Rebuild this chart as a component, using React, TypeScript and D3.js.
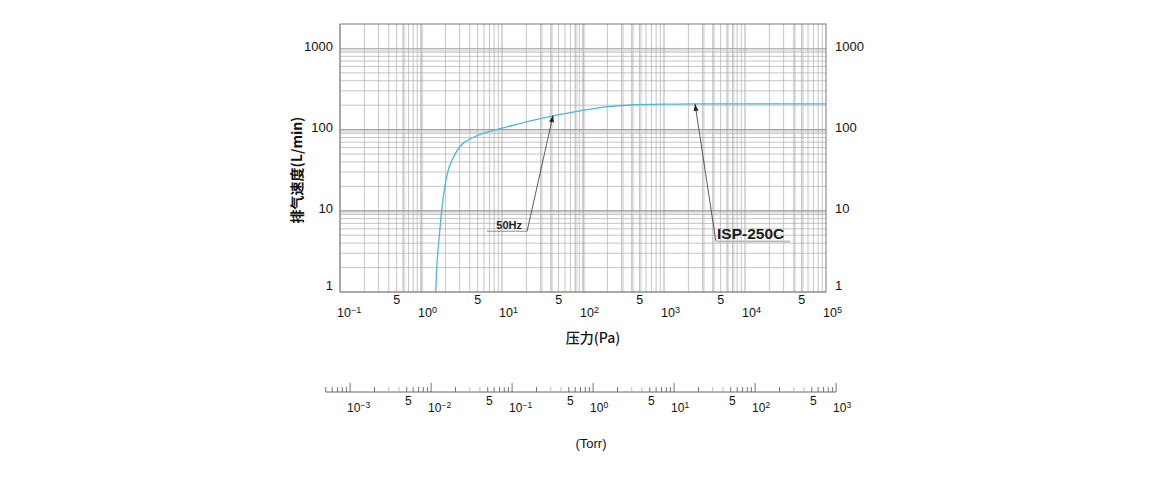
import React, { useEffect, useRef } from "react";
import * as d3 from "d3";

// pumping speed curve (Pa, L/min)
const pressurePa = [1.52, 1.56, 1.68, 1.8, 1.94, 2.1, 2.5, 3.03, 3.6, 4.4, 5.5, 7, 10, 20, 39, 92, 200, 380, 1000, 2300, 10000, 100000];
const speedLmin = [1, 1.87, 4.8, 10, 18, 28, 45, 62, 72, 80, 88, 95, 104, 125, 145, 170, 192, 201, 206, 207, 208, 208];

const speedTicks = [1, 10, 100, 1000];
const paExponents = [-1, 0, 1, 2, 3, 4, 5];
const paFives = [0.5, 5, 50, 500, 5000, 50000];
const torrExponents = [-3, -2, -1, 0, 1, 2, 3];
const torrFives = [0.005, 0.05, 0.5, 5, 50, 500];

// scanned paper has some doubled light lines
const lightX = [0.6, 1, 30, 40, 80, 100, 300, 400, 500, 3000, 4000, 6000, 7000, 40000, 50000];
const lightY = [950, 95, 9.5];

const TORR_TO_PA = 133.322;
const FONT = "'Liberation Sans', Arial, Helvetica, sans-serif";
const CJK = "'Noto Sans CJK SC', 'Liberation Sans', sans-serif";

const App: React.FC = () => {
  const svgRef = useRef<SVGSVGElement>(null);

  useEffect(() => {
    document.body.style.margin = "0";
    if (!svgRef.current) return;
    const svg = d3.select(svgRef.current);
    svg.selectAll("*").remove();

    const left = 340, right = 826, top = 24, bottom = 292;
    const x = d3.scaleLog().domain([0.1, 1e5]).range([left, right]);
    const y = d3.scaleLog().domain([1, 2000]).range([bottom, top]);
    const xt = d3
      .scaleLog()
      .domain([0.1 / TORR_TO_PA, 1e5 / TORR_TO_PA])
      .range([left, right]);

    const defs = svg.append("defs");
    defs
      .append("marker")
      .attr("id", "arr")
      .attr("viewBox", "0 0 10 10")
      .attr("refX", 10)
      .attr("refY", 5)
      .attr("markerWidth", 7)
      .attr("markerHeight", 7)
      .attr("markerUnits", "userSpaceOnUse")
      .attr("orient", "auto")
      .append("path")
      .attr("d", "M0,1.5L10,5L0,8.5Z")
      .attr("fill", "#222");

    const grid = svg.append("g");

    // light doubled lines
    lightX.forEach((v) => {
      grid
        .append("line")
        .attr("x1", x(v) + 1)
        .attr("x2", x(v) + 1)
        .attr("y1", top)
        .attr("y2", bottom)
        .attr("stroke", "#e2e2e2")
        .attr("stroke-width", 2.5);
    });
    lightY.forEach((v) => {
      grid
        .append("line")
        .attr("x1", left)
        .attr("x2", right)
        .attr("y1", y(v))
        .attr("y2", y(v))
        .attr("stroke", "#e2e2e2")
        .attr("stroke-width", 2.5);
    });

    // vertical log grid
    for (let e = -1; e < 5; e++) {
      for (let k = 1; k <= 9; k++) {
        const v = k * Math.pow(10, e);
        grid
          .append("line")
          .attr("x1", x(v))
          .attr("x2", x(v))
          .attr("y1", top)
          .attr("y2", bottom)
          .attr("stroke", k === 1 ? "#959595" : "#b2b2b2")
          .attr("stroke-width", 0.75);
      }
    }
    // horizontal log grid
    for (let e = 0; e < 3; e++) {
      for (let k = 1; k <= 10; k++) {
        const v = k * Math.pow(10, e);
        grid
          .append("line")
          .attr("x1", left)
          .attr("x2", right)
          .attr("y1", y(v))
          .attr("y2", y(v))
          .attr("stroke", k === 1 || k === 10 ? "#959595" : "#b2b2b2")
          .attr("stroke-width", 0.75);
      }
    }

    svg
      .append("rect")
      .attr("x", left)
      .attr("y", top)
      .attr("width", right - left)
      .attr("height", bottom - top)
      .attr("fill", "none")
      .attr("stroke", "#7a7a7a")
      .attr("stroke-width", 1);

    // curve
    const pts: [number, number][] = pressurePa.map((p, i) => [x(p), y(speedLmin[i])]);
    svg
      .append("path")
      .attr("d", d3.line().curve(d3.curveMonotoneX)(pts) as string)
      .attr("fill", "none")
      .attr("stroke", "#4db8d8")
      .attr("stroke-width", 1.3);

    // y labels (left and right)
    speedTicks.forEach((v) => {
      const yy = v === 1 ? bottom - 7 : y(v) - 2;
      svg
        .append("text")
        .attr("x", 333)
        .attr("y", yy)
        .attr("dy", "0.35em")
        .attr("text-anchor", "end")
        .attr("font-family", FONT)
        .attr("font-size", 13)
        .attr("fill", "#111")
        .text(v);
      svg
        .append("text")
        .attr("x", 835)
        .attr("y", yy)
        .attr("dy", "0.35em")
        .attr("text-anchor", "start")
        .attr("font-family", FONT)
        .attr("font-size", 13)
        .attr("fill", "#111")
        .text(v);
    });

    // x labels
    paFives.forEach((v) => {
      svg
        .append("text")
        .attr("x", x(v))
        .attr("y", 304)
        .attr("text-anchor", "middle")
        .attr("font-family", FONT)
        .attr("font-size", 12.5)
        .attr("fill", "#111")
        .text("5");
    });
    paExponents.forEach((e) => {
      const t = svg
        .append("text")
        .attr("x", x(Math.pow(10, e)) - 3)
        .attr("y", 316.5)
        .attr("font-family", FONT)
        .attr("font-size", 12.5)
        .attr("fill", "#111")
        .text("10");
      t.append("tspan")
        .attr("dy", -4)
        .attr("font-size", 9)
        .text(e < 0 ? "\u2212" + Math.abs(e) : String(e));
    });

    svg
      .append("text")
      .attr("x", 593)
      .attr("y", 343)
      .attr("text-anchor", "middle")
      .attr("font-family", CJK)
      .attr("font-size", 14)
      .attr("font-weight", 500)
      .attr("fill", "#111")
      .text("压力(Pa)");

    svg
      .append("text")
      .attr("transform", "translate(302,170) rotate(-90)")
      .attr("text-anchor", "middle")
      .attr("font-family", CJK)
      .attr("font-size", 14)
      .attr("font-weight", 700)
      .attr("fill", "#111")
      .text("排气速度(L/min)");

    // annotations
    const ann = svg.append("g").attr("stroke", "#333").attr("stroke-width", 0.8).attr("fill", "none");
    ann
      .append("line")
      .attr("x1", x(20.4))
      .attr("y1", y(5.6))
      .attr("x2", x(42.7))
      .attr("y2", y(150))
      .attr("marker-end", "url(#arr)");
    ann
      .append("line")
      .attr("x1", 487)
      .attr("x2", x(20.4))
      .attr("y1", y(5.6))
      .attr("y2", y(5.6))
      .attr("stroke", "#777");
    svg
      .append("text")
      .attr("x", 522)
      .attr("y", 229)
      .attr("text-anchor", "end")
      .attr("font-family", FONT)
      .attr("font-size", 11)
      .attr("font-weight", 700)
      .attr("fill", "#222")
      .text("50Hz");

    ann
      .append("line")
      .attr("x1", x(4365))
      .attr("y1", y(4.25))
      .attr("x2", x(2415))
      .attr("y2", y(207))
      .attr("marker-end", "url(#arr)");
    svg
      .append("line")
      .attr("x1", 716)
      .attr("x2", 790)
      .attr("y1", 241.5)
      .attr("y2", 241.5)
      .attr("stroke", "#bdbdbd")
      .attr("stroke-width", 2);
    svg
      .append("text")
      .attr("x", 717)
      .attr("y", 238.5)
      .attr("font-family", FONT)
      .attr("font-size", 15.5)
      .attr("font-weight", 700)
      .attr("fill", "#1a1a1a")
      .text("ISP-250C");

    // Torr axis
    const ty = 392;
    const torr = svg.append("g");
    torr
      .append("line")
      .attr("x1", xt(5e-4))
      .attr("x2", xt(1e3))
      .attr("y1", ty)
      .attr("y2", ty)
      .attr("stroke", "#555")
      .attr("stroke-width", 0.9);
    for (let e = -4; e <= 2; e++) {
      for (let k = 1; k <= 9; k++) {
        const v = k * Math.pow(10, e);
        if (v < 5e-4 - 1e-9) continue;
        const major = k === 1;
        torr
          .append("line")
          .attr("x1", xt(v))
          .attr("x2", xt(v))
          .attr("y1", ty)
          .attr("y2", major ? ty - 9 : ty - 5)
          .attr("stroke", k === 3 || k === 4 ? "#aaa" : "#555")
          .attr("stroke-width", 0.8);
      }
    }
    torr
      .append("line")
      .attr("x1", xt(1e3))
      .attr("x2", xt(1e3))
      .attr("y1", ty)
      .attr("y2", ty - 9)
      .attr("stroke", "#555")
      .attr("stroke-width", 0.8);

    torrFives.forEach((v) => {
      torr
        .append("text")
        .attr("x", xt(v) + 1.5)
        .attr("y", 405)
        .attr("text-anchor", "middle")
        .attr("font-family", FONT)
        .attr("font-size", 12)
        .attr("fill", "#111")
        .text("5");
    });
    torrExponents.forEach((e) => {
      const t = torr
        .append("text")
        .attr("x", xt(Math.pow(10, e)) - 3)
        .attr("y", 412)
        .attr("font-family", FONT)
        .attr("font-size", 12)
        .attr("fill", "#111")
        .text("10");
      t.append("tspan")
        .attr("dy", -4)
        .attr("font-size", 8.5)
        .text(e < 0 ? "\u2212" + Math.abs(e) : String(e));
    });

    svg
      .append("text")
      .attr("x", 591)
      .attr("y", 448)
      .attr("text-anchor", "middle")
      .attr("font-family", FONT)
      .attr("font-size", 13)
      .attr("fill", "#111")
      .text("(Torr)");
  }, []);

  return (
    <svg
      ref={svgRef}
      width={1160}
      height={480}
      style={{ display: "block", background: "#fff" }}
    />
  );
};

export default App;
